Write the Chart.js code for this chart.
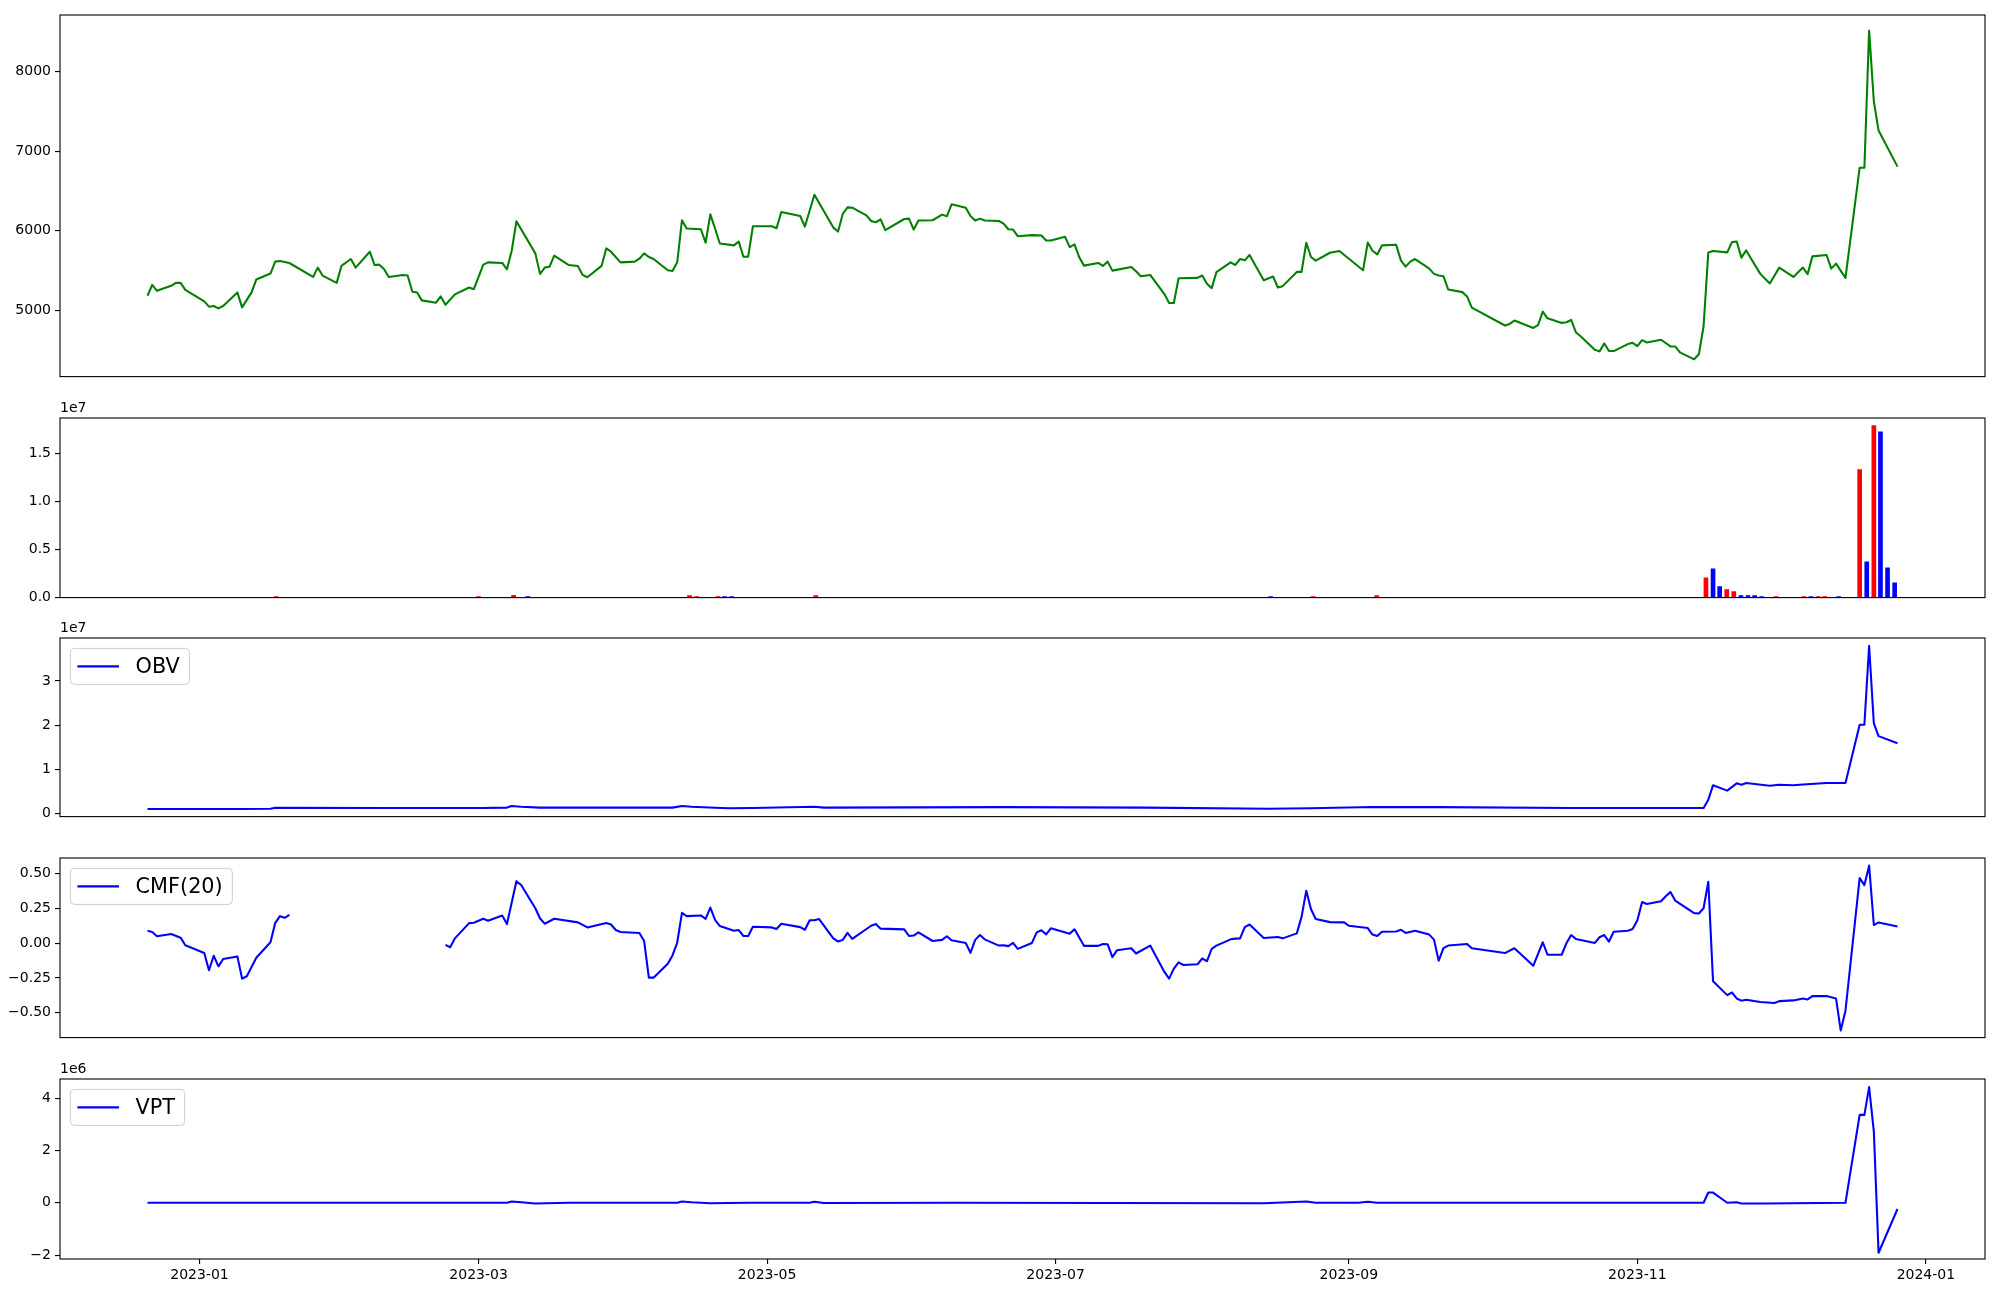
<!DOCTYPE html>
<html>
<head>
<meta charset="utf-8">
<script src="https://cdn.jsdelivr.net/npm/chart.js@4.4.0/dist/chart.umd.min.js"></script>
<style>
  html, body { margin: 0; padding: 0; background: #fff; width: 2000px; height: 1300px; overflow: hidden; }
  canvas { position: absolute; left: 0; }
</style>
</head>
<body>
<canvas id="price"></canvas>
<canvas id="volume"></canvas>
<canvas id="obv"></canvas>
<canvas id="cmf"></canvas>
<canvas id="vpt"></canvas>
<script>
// x values are days since 2023-01-01
const monthTicks = [0, 59, 120, 181, 243, 304, 365];
const monthLabels = ['2023-01', '2023-03', '2023-05', '2023-07', '2023-09', '2023-11', '2024-01'];

// close price
const priceDays = [
  -11, -10, -9, -6, -5, -4, -3, 1, 2, 3,
  4, 5, 8, 9, 11, 12, 15, 16, 17, 19,
  24, 25, 26, 29, 30, 32, 33, 36, 37, 38,
  39, 40, 43, 44, 45, 46, 47, 50, 51, 52,
  54, 57, 58, 60, 61, 64, 65, 66, 67, 71,
  72, 73, 74, 75, 78, 80, 81, 82, 85, 86,
  87, 89, 92, 93, 94, 95, 96, 99, 100, 101,
  102, 103, 106, 107, 108, 109, 110, 113, 114, 115,
  116, 117, 121, 122, 123, 127, 128, 130, 134, 135,
  136, 137, 138, 141, 142, 143, 144, 145, 149, 150,
  151, 152, 155, 157, 158, 159, 162, 163, 164, 165,
  166, 169, 170, 171, 172, 173, 176, 178, 179, 180,
  183, 184, 185, 186, 187, 190, 191, 192, 193, 197,
  198, 199, 201, 204, 205, 206, 207, 211, 212, 213,
  214, 215, 218, 219, 220, 221, 222, 225, 227, 228,
  229, 232, 233, 234, 235, 236, 239, 241, 246, 247,
  248, 249, 250, 253, 254, 255, 256, 257, 259, 260,
  261, 262, 263, 264, 267, 268, 269, 276, 277, 278,
  282, 283, 284, 285, 288, 289, 290, 291, 292, 295,
  296, 297, 298, 299, 302, 303, 304, 305, 306, 309,
  311, 312, 313, 316, 317, 318, 319, 320, 323, 324,
  325, 326, 327, 330, 332, 334, 337, 339, 340, 341,
  344, 345, 346, 348, 351, 352, 353, 354, 355, 359
];
const priceValues = [
  5183, 5320, 5245, 5308, 5345, 5345, 5258, 5112, 5046, 5054,
  5025, 5054, 5225, 5037, 5225, 5387, 5462, 5612, 5620, 5595,
  5420, 5537, 5437, 5345, 5558, 5645, 5537, 5737, 5570, 5574,
  5520, 5420, 5445, 5437, 5233, 5225, 5125, 5096, 5175, 5071,
  5200, 5287, 5266, 5574, 5603, 5595, 5516, 5749, 6119, 5716,
  5458, 5537, 5549, 5687, 5570, 5558, 5445, 5416, 5558, 5778,
  5737, 5603, 5612, 5649, 5716, 5670, 5645, 5503, 5495, 5603,
  6132, 6028, 6019, 5849, 6207, 6028, 5840, 5816, 5865, 5674,
  5674, 6057, 6057, 6032, 6236, 6186, 6053, 6452, 6040, 5990,
  6211, 6294, 6290, 6194, 6123, 6107, 6144, 6007, 6148, 6153,
  6015, 6128, 6132, 6203, 6182, 6332, 6290, 6186, 6128, 6153,
  6128, 6123, 6090, 6019, 6015, 5932, 5945, 5940, 5878, 5878,
  5924, 5795, 5828, 5666, 5562, 5595, 5558, 5612, 5499, 5545,
  5491, 5429, 5445, 5204, 5092, 5092, 5404, 5408, 5437, 5333,
  5279, 5479, 5603, 5570, 5645, 5628, 5695, 5379, 5424, 5287,
  5304, 5483, 5483, 5849, 5670, 5624, 5724, 5745, 5503, 5853,
  5749, 5703, 5816, 5824, 5628, 5549, 5612, 5645, 5566, 5524,
  5458, 5437, 5429, 5262, 5229, 5175, 5033, 4809, 4829, 4871,
  4779, 4813, 4983, 4900, 4842, 4850, 4879, 4725, 4675, 4505,
  4484, 4584, 4488, 4488, 4576, 4592, 4551, 4626, 4596, 4630,
  4546, 4546, 4472, 4384, 4447, 4800, 5728, 5745, 5728, 5857,
  5865, 5662, 5753, 5458, 5337, 5537, 5420, 5537, 5454, 5678,
  5695, 5524, 5587, 5408, 6793, 6793, 8516, 7626, 7259, 6806
];
const priceTicks = [5000, 6000, 7000, 8000];
const priceTickLabels = ['5000', '6000', '7000', '8000'];

// volume bars (red / blue)
const redDays = [16.2, 59.0, 66.4, 103.6, 105.1, 109.6, 130.3, 235.4, 248.9, 318.5, 322.9, 324.4, 333.3, 339.2, 342.2, 343.6, 351.0, 354.0];
const redVolumes = [1e5, 1e5, 2.4e5, 2e5, 1e5, 1e5, 2e5, 1e5, 2e5, 2.07e6, 8.3e5, 6.2e5, 1e5, 1e5, 1e5, 1e5, 1.337e7, 1.794e7];
const blueDays = [69.4, 111.0, 112.5, 226.5, 320.0, 321.4, 325.9, 327.4, 328.8, 330.3, 340.7, 346.6, 352.5, 355.4, 356.9, 358.4];
const blueVolumes = [1e5, 1e5, 1e5, 1e5, 3.0e6, 1.14e6, 2.07e5, 2.07e5, 2.07e5, 1.04e5, 1e5, 1e5, 3.73e6, 1.73e7, 3.11e6, 1.55e6];
const volTicks = [0, 5e6, 1e7, 1.5e7];
const volTickLabels = ['0.0', '0.5', '1.0', '1.5'];

// OBV
const obvDays = [
  -11, 8, 15, 16, 40, 60, 65, 66, 68, 72,
  100, 102, 104, 109, 112, 117, 130, 132, 170, 200,
  226, 235, 248, 262, 290, 318, 319, 320, 323, 325,
  326, 327, 332, 334, 337, 339, 344, 348, 351, 352,
  353, 354, 355, 359
];
const obvValues = [
  1.0e6, 1.0e6, 1.05e6, 1.25e6, 1.2e6, 1.2e6, 1.3e6, 1.65e6, 1.5e6, 1.3e6,
  1.3e6, 1.65e6, 1.5e6, 1.25e6, 1.15e6, 1.2e6, 1.5e6, 1.3e6, 1.4e6, 1.3e6,
  1.05e6, 1.15e6, 1.45e6, 1.4e6, 1.2e6, 1.2e6, 3.1e6, 6.35e6, 5.15e6, 6.8e6,
  6.5e6, 6.87e6, 6.26e6, 6.5e6, 6.35e6, 6.55e6, 6.87e6, 6.87e6, 20.07e6, 20.07e6,
  38.0e6, 20.4e6, 17.5e6, 15.9e6
];
const obvTicks = [0, 1e7, 2e7, 3e7];
const obvTickLabels = ['0', '1', '2', '3'];

// CMF(20), null = no value (gap)
const cmfDays = [
  -11, -10, -9, -6, -4, -3, 1, 2, 3, 4,
  5, 8, 9, 10, 12, 15, 16, 17, 18, 19,
  35, 52, 53, 54, 57, 58, 60, 61, 64, 65,
  67, 68, 71, 72, 73, 75, 80, 82, 86, 87,
  88, 89, 93, 94, 95, 96, 99, 100, 101, 102,
  103, 106, 107, 108, 109, 110, 113, 114, 115, 116,
  117, 121, 122, 123, 127, 128, 129, 130, 131, 134,
  135, 136, 137, 138, 142, 143, 144, 149, 150, 151,
  152, 155, 157, 158, 159, 162, 163, 164, 165, 166,
  169, 170, 171, 172, 173, 176, 177, 178, 179, 180,
  184, 185, 187, 190, 191, 192, 193, 194, 197, 198,
  201, 204, 205, 206, 207, 208, 211, 212, 213, 214,
  215, 218, 219, 220, 221, 222, 225, 228, 229, 232,
  233, 234, 235, 236, 239, 242, 243, 247, 248, 249,
  250, 253, 254, 255, 257, 260, 261, 262, 263, 264,
  268, 269, 276, 278, 282, 284, 285, 288, 289, 290,
  291, 295, 296, 297, 298, 299, 302, 303, 304, 305,
  306, 309, 310, 311, 312, 316, 317, 318, 319, 320,
  323, 324, 325, 326, 327, 330, 333, 334, 337, 339,
  340, 341, 344, 346, 347, 348, 351, 352, 353, 354,
  355, 359
];
const cmfValues = [
  0.090, 0.081, 0.050, 0.066, 0.040, -0.015, -0.071, -0.195, -0.090, -0.167,
  -0.114, -0.095, -0.255, -0.238, -0.105, 0.007, 0.145, 0.195, 0.183, 0.205,
  null, -0.012, -0.029, 0.035, 0.145, 0.147, 0.176, 0.162, 0.200, 0.138,
  0.447, 0.419, 0.252, 0.178, 0.140, 0.176, 0.150, 0.114, 0.145, 0.135,
  0.095, 0.081, 0.074, 0.016, -0.248, -0.248, -0.148, -0.088, 0.005, 0.219,
  0.195, 0.200, 0.176, 0.257, 0.169, 0.124, 0.090, 0.095, 0.052, 0.052,
  0.119, 0.114, 0.102, 0.140, 0.116, 0.097, 0.166, 0.166, 0.174, 0.035,
  0.012, 0.024, 0.074, 0.031, 0.126, 0.138, 0.105, 0.100, 0.052, 0.055,
  0.078, 0.016, 0.024, 0.050, 0.021, 0.002, -0.069, 0.024, 0.059, 0.028,
  -0.017, -0.014, -0.021, 0.002, -0.041, 0.002, 0.078, 0.093, 0.064, 0.107,
  0.069, 0.100, -0.019, -0.019, -0.005, -0.007, -0.100, -0.050, -0.036, -0.074,
  -0.017, -0.207, -0.255, -0.183, -0.138, -0.157, -0.152, -0.110, -0.129, -0.041,
  -0.017, 0.028, 0.033, 0.035, 0.116, 0.135, 0.038, 0.045, 0.035, 0.071,
  0.190, 0.378, 0.245, 0.174, 0.152, 0.150, 0.126, 0.109, 0.062, 0.052,
  0.083, 0.085, 0.097, 0.074, 0.090, 0.062, 0.026, -0.126, -0.036, -0.017,
  -0.005, -0.036, -0.071, -0.036, -0.162, 0.007, -0.083, -0.083, 0.000, 0.059,
  0.031, 0.002, 0.043, 0.059, 0.012, 0.083, 0.090, 0.102, 0.166, 0.297,
  0.283, 0.302, 0.338, 0.369, 0.307, 0.217, 0.214, 0.252, 0.443, -0.274,
  -0.374, -0.355, -0.398, -0.414, -0.407, -0.424, -0.431, -0.417, -0.412, -0.398,
  -0.405, -0.381, -0.381, -0.398, -0.629, -0.486, 0.469, 0.419, 0.559, 0.131,
  0.150, 0.121
];
const cmfTicks = [-0.5, -0.25, 0, 0.25, 0.5];
const cmfTickLabels = ['\u22120.50', '\u22120.25', '0.00', '0.25', '0.50'];

// VPT
const vptDays = [
  -11, 65, 66, 68, 71, 78, 101, 102, 104, 108,
  116, 129, 130, 132, 160, 225, 234, 236, 245, 247,
  249, 318, 319, 320, 323, 325, 326, 331, 348, 351,
  352, 353, 354, 355, 359
];
const vptValues = [
  0, 0, 5e4, 2e4, -3e4, 0, 0, 5e4, 2e4, -2e4,
  0, 0, 4e4, -1e4, 0, -2e4, 5e4, 0, 0, 4e4,
  0, 0, 3.9e5, 3.9e5, 0, 2e4, -3e4, -3e4, 0, 3.36e6,
  3.36e6, 4.42e6, 2.72e6, -1.91e6, -2.4e5
];
const vptTicks = [-2e6, 0, 2e6, 4e6];
const vptTickLabels = ['\u22122', '0', '2', '4'];

const FONT = 'DejaVu Sans';
const X_MIN = -29.5, X_MAX = 377.5;
const PAD_TOP = 30;

function pts(days, vals) {
  return days.map((d, i) => ({ x: d, y: vals[i] }));
}

// spines, offset text ("1e7") and matplotlib-like legend box
const framePlugin = {
  id: 'frame',
  afterDraw(chart, args, opts) {
    const { ctx, chartArea: a } = chart;
    ctx.save();
    ctx.strokeStyle = '#000';
    ctx.lineWidth = 1.1;
    ctx.strokeRect(a.left, a.top, a.right - a.left, a.bottom - a.top);
    if (opts.offsetText) {
      ctx.fillStyle = '#000';
      ctx.font = '14px "DejaVu Sans"';
      ctx.textAlign = 'left';
      ctx.textBaseline = 'middle';
      ctx.fillText(opts.offsetText, a.left, a.top - 10);
    }
    if (opts.legend) {
      const fs = 20.8;
      ctx.font = fs + 'px "DejaVu Sans"';
      const tw = ctx.measureText(opts.legend).width;
      const bx = a.left + 10.4, by = a.top + 10.4;
      const bw = 8.3 + 41.6 + 16.6 + tw + 8.3, bh = 36;
      ctx.beginPath();
      ctx.roundRect(bx, by, bw, bh, 4);
      ctx.fillStyle = 'rgba(255,255,255,0.8)';
      ctx.fill();
      ctx.strokeStyle = '#cccccc';
      ctx.lineWidth = 1;
      ctx.stroke();
      ctx.beginPath();
      ctx.moveTo(bx + 7, by + bh / 2);
      ctx.lineTo(bx + 7 + 41.6, by + bh / 2);
      ctx.strokeStyle = opts.legendColor;
      ctx.lineWidth = 2.08;
      ctx.stroke();
      ctx.fillStyle = '#000';
      ctx.textAlign = 'left';
      ctx.textBaseline = 'middle';
      ctx.fillText(opts.legend, bx + 7 + 41.6 + 16.6, by + bh / 2 + 1);
    }
    ctx.restore();
  }
};

function xAxis(showLabels) {
  return {
    type: 'linear',
    min: X_MIN,
    max: X_MAX,
    offset: false,
    afterBuildTicks: s => { s.ticks = monthTicks.map(v => ({ value: v })); },
    afterFit: s => { s.height = showLabels ? 40 : 10; },
    grid: { offset: false, drawOnChartArea: false, drawTicks: showLabels, tickLength: 5, color: '#000', lineWidth: 1.1 },
    border: { display: false },
    ticks: {
      display: showLabels, autoSkip: false, maxRotation: 0, padding: 3, color: '#000',
      font: { family: FONT, size: 14 },
      callback: (v, i) => monthLabels[i]
    }
  };
}

function yAxis(min, max, ticks, labels) {
  return {
    min: min,
    max: max,
    afterBuildTicks: s => { s.ticks = ticks.map(v => ({ value: v })); },
    afterFit: s => { s.width = 60; },
    grid: { drawOnChartArea: false, drawTicks: true, tickLength: 5, color: '#000', lineWidth: 1.1 },
    border: { display: false },
    ticks: {
      padding: 4, color: '#000', autoSkip: false,
      font: { family: FONT, size: 14 },
      callback: (v, i) => labels[i]
    }
  };
}

function makePanel(id, top, bottom, showX, type, datasets, y, frame) {
  const xh = showX ? 40 : 10;
  const canvas = document.getElementById(id);
  canvas.width = 2000;
  canvas.height = PAD_TOP + (bottom - top) + xh;
  canvas.style.top = (top - PAD_TOP) + 'px';
  canvas.style.width = '2000px';
  canvas.style.height = canvas.height + 'px';
  return new Chart(canvas.getContext('2d'), {
    type: type,
    data: { datasets: datasets },
    options: {
      responsive: false,
      animation: false,
      devicePixelRatio: 1,
      events: [],
      layout: { padding: { top: PAD_TOP, right: 15, left: 0, bottom: 0 } },
      plugins: { legend: { display: false }, tooltip: { enabled: false }, frame: frame },
      scales: { x: xAxis(showX), y: y }
    },
    plugins: [framePlugin]
  });
}

function lineSet(data, color) {
  return {
    data: data, borderColor: color, borderWidth: 2.08, pointRadius: 0,
    fill: false, tension: 0, spanGaps: false, borderJoinStyle: 'round'
  };
}

makePanel('price', 15, 379, false, 'line',
  [lineSet(pts(priceDays, priceValues), '#008000')],
  yAxis(4167, 8712, priceTicks, priceTickLabels), {});

makePanel('volume', 418, 600, false, 'bar', [
  { data: pts(redDays, redVolumes), backgroundColor: '#ff0000', barThickness: 4, grouped: false },
  { data: pts(blueDays, blueVolumes), backgroundColor: '#0000ff', barThickness: 4, grouped: false }
], yAxis(0, 18.74e6, volTicks, volTickLabels), { offsetText: '1e7' });

makePanel('obv', 638, 819, false, 'line',
  [lineSet(pts(obvDays, obvValues), '#0000ff')],
  yAxis(-0.74e6, 39.75e6, obvTicks, obvTickLabels),
  { offsetText: '1e7', legend: 'OBV', legendColor: '#0000ff' });

makePanel('cmf', 858, 1040, false, 'line',
  [lineSet(pts(cmfDays, cmfValues), '#0000ff')],
  yAxis(-0.680, 0.614, cmfTicks, cmfTickLabels),
  { legend: 'CMF(20)', legendColor: '#0000ff' });

makePanel('vpt', 1079, 1259, true, 'line',
  [lineSet(pts(vptDays, vptValues), '#0000ff')],
  yAxis(-2.15e6, 4.73e6, vptTicks, vptTickLabels),
  { offsetText: '1e6', legend: 'VPT', legendColor: '#0000ff' });
</script>
</body>
</html>
